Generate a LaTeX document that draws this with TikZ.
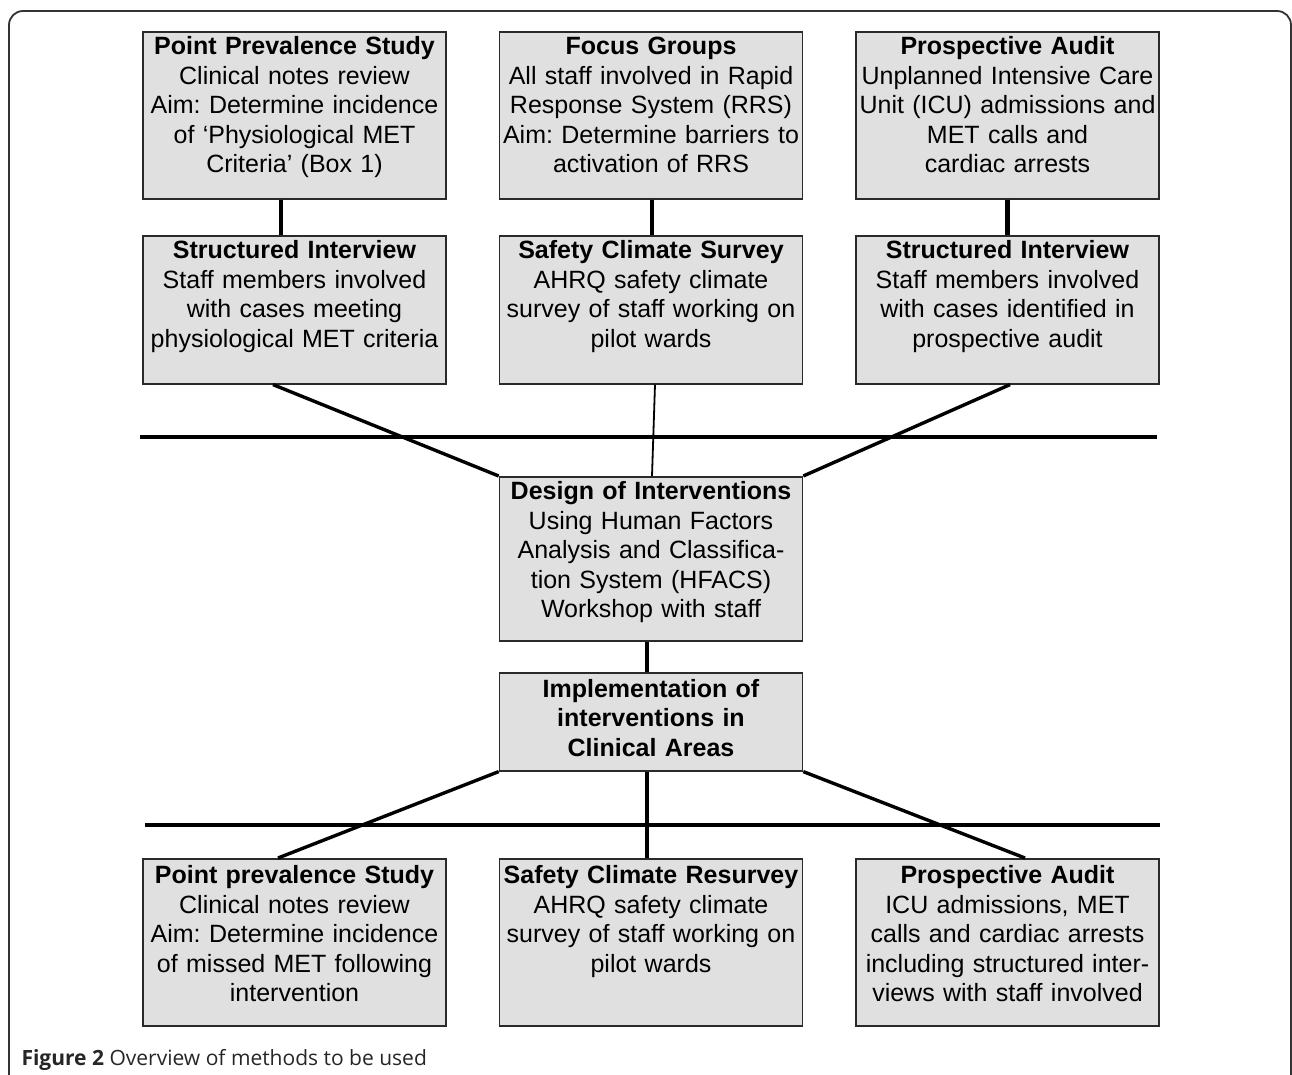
\documentclass[tikz,border=0pt]{standalone}
\usepackage{fontspec}
\setmainfont{Liberation Sans}
\newfontfamily\capfont{Open Sans}
\usepackage{xcolor}
\usepackage{tikz}
\usetikzlibrary{positioning,calc}
\definecolor{boxgray}{HTML}{E0E0E0}
\definecolor{edgegray}{HTML}{2A2A2A}
\definecolor{framegray}{HTML}{333333}
\frenchspacing

\begin{document}
\begin{tikzpicture}[x=1pt,y=-1pt,
  every node/.style={font=\fontsize{25}{29.5}\selectfont,align=center},
  box/.style={draw=edgegray,fill=boxgray,line width=1.6pt,text width=301pt,inner xsep=1pt,inner ysep=0pt,text height=23pt,anchor=north},
  tall/.style={box,text depth=144pt},
  mid/.style={box,text depth=125pt},
  link/.style={draw=black,line width=4.5pt},
  slant/.style={draw=black,line width=3.4pt},
  thinlink/.style={draw=black,line width=1.8pt},
  rule/.style={draw=black,line width=4pt},
  frame/.style={draw=framegray,line width=1.8pt,rounded corners=14pt}
]
  \useasboundingbox (0,0) rectangle (1292,1074);
  \draw[frame] (9,11) rectangle (1291,1110);
  \node[tall] (pps) at (294.5,31) {\textbf{Point Prevalence Study}\\Clinical notes review\\Aim: Determine incidence\\of ‘Physiological MET\\Criteria’ (Box 1)};
  \node[tall] (focus) at (651,31) {\textbf{Focus Groups}\\All staff involved in Rapid\\Response System (RRS)\\Aim: Determine barriers to\\activation of RRS};
  \node[tall] (audit) at (1007.5,31) {\textbf{Prospective Audit}\\Unplanned Intensive Care\\Unit (ICU) admissions and\\MET calls and\\cardiac arrests};
  \node[mid] (intA) at (294.5,235) {\textbf{Structured Interview}\\Staff members involved\\with cases meeting\\physiological MET criteria};
  \node[mid] (survey) at (651,235) {\textbf{Safety Climate Survey}\\AHRQ safety climate\\survey of staff working on\\pilot wards};
  \node[mid] (intB) at (1007.5,235) {\textbf{Structured Interview}\\Staff members involved\\with cases identified in\\prospective audit};
  \node[box,text depth=141pt] (design) at (651,476) {\textbf{Design of Interventions}\\Using Human Factors\\Analysis and Classifica-\\tion System (HFACS)\\Workshop with staff};
  \node[box,text height=24.5pt,text depth=73.5pt] (impl) at (651,672) {\textbf{Implementation of}\\\textbf{interventions in}\\\textbf{Clinical Areas}};
  \node[tall,text height=25pt,text depth=142pt] (ppsB) at (294.5,858) {\textbf{Point prevalence Study}\\Clinical notes review\\Aim: Determine incidence\\of missed MET following\\intervention};
  \node[tall,text height=25pt,text depth=142pt] (resurvey) at (651,858) {\textbf{Safety Climate Resurvey}\\AHRQ safety climate\\survey of staff working on\\pilot wards};
  \node[tall,text height=25pt,text depth=142pt] (auditB) at (1007.5,858) {\textbf{Prospective Audit}\\ICU admissions, MET\\calls and cardiac arrests\\including structured inter-\\views with staff involved};
  \coordinate (ruleAw) at (140,437);
  \coordinate (ruleAe) at (1157,437);
  \coordinate (ruleBw) at (145,825);
  \coordinate (ruleBe) at (1160,825);
  \draw[rule] (ruleAw) -- (ruleAe);
  \draw[rule] (ruleBw) -- (ruleBe);
  \draw[link] ([xshift=-13.5pt]pps.south) -- ([xshift=-13.5pt]intA.north);
  \draw[link] ([xshift=1pt]focus.south) -- ([xshift=1pt]survey.north);
  \draw[link] (audit.south) -- (intB.north);
  \draw[slant] ([xshift=-21.5pt]intA.south) -- (design.north west);
  \draw[thinlink] ([xshift=4pt]survey.south) -- ([xshift=1pt]design.north);
  \draw[slant] ([xshift=2.5pt]intB.south) -- (design.north east);
  \draw[link] ([xshift=-4pt]design.south) -- ([xshift=-4pt]impl.north);
  \draw[link] ([xshift=-4pt]impl.south) -- ([xshift=-4pt]resurvey.north);
  \draw[slant] (impl.south west) -- ([xshift=-16.5pt]ppsB.north);
  \draw[slant] (impl.south east) -- ([xshift=17.5pt]auditB.north);
  \node[anchor=base west,font=\capfont\fontsize{21}{25}\selectfont,text=black!85] (caption) at (18,1065) {\textbf{Figure 2} Overview of methods to be used};
\end{tikzpicture}
\end{document}
